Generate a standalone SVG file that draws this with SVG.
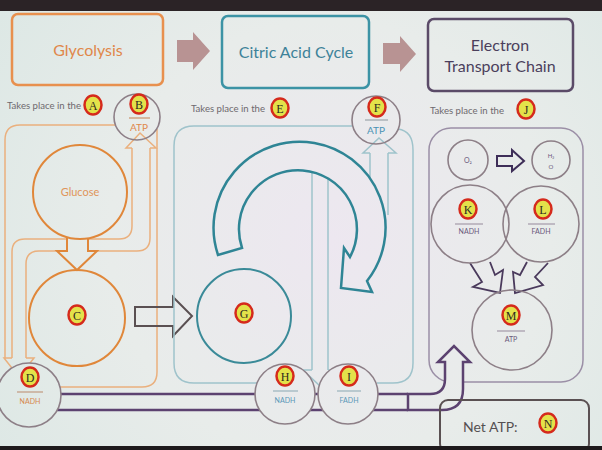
<svg xmlns="http://www.w3.org/2000/svg" width="602" height="450" viewBox="0 0 602 450">
<defs>
<radialGradient id="bg" gradientUnits="userSpaceOnUse" cx="330" cy="240" r="400">
<stop offset="0" stop-color="#ede7f0"/>
<stop offset="0.55" stop-color="#e8ecea"/>
<stop offset="1" stop-color="#dde8e5"/>
</radialGradient>
<style>
.t{font-family:Lato,"Open Sans","Liberation Sans",sans-serif}
.title{font-size:16px;text-anchor:middle}
.tp{font-size:9.6px;fill:#6e696e}
.sm{font-size:7px;text-anchor:middle}
.atp{font-size:10px;text-anchor:middle}
.lt{font-family:"Liberation Serif",serif;font-size:12px;text-anchor:middle;fill:#2e2a1e}
.badge{fill:#e3e24a;stroke:#d52a1c;stroke-width:2.5}
.org{fill:none;stroke:#eab07e;stroke-width:1.5}
.teal{fill:none;stroke:#9fc3cb;stroke-width:1.5}
.pur{fill:none;stroke:#9b8fa6;stroke-width:1.5}
.gc{fill:none;stroke:#8d7f87;stroke-width:1.6}
.mask{fill:url(#bg)}
.pipe{fill:none;stroke:#5c4270;stroke-width:2.5}
.blk{fill:#b89393}
.ul{stroke-width:1.2}
</style>
</defs>
<rect width="602" height="450" fill="url(#bg)"/>

<!-- title boxes -->
<g id="title-glycolysis">
<rect x="12" y="14" width="151" height="71" rx="6" fill="none" stroke="#e8904e" stroke-width="2.5"/>
<text class="t title" x="88" y="56" fill="#e0874a">Glycolysis</text>
</g>
<g id="title-citric">
<rect x="222" y="16" width="147" height="72" rx="6" fill="none" stroke="#3c93a5" stroke-width="2.5"/>
<text class="t title" x="296" y="58" fill="#3d8299">Citric Acid Cycle</text>
</g>
<g id="title-etc">
<rect x="428" y="19" width="145" height="72" rx="6" fill="none" stroke="#5b4b68" stroke-width="2.5"/>
<text class="t title" x="500" y="51" fill="#4b3f5c">Electron</text>
<text class="t title" x="500" y="72" fill="#4b3f5c">Transport Chain</text>
</g>

<g id="connectors">
<polygon class="blk" points="177,40 193,40 193,32 210,51 193,70 193,62 177,62"/>
<polygon class="blk" points="383,43 400,43 400,36 416,54 400,72 400,64 383,64"/>
<!-- glycolysis region -->
<path class="org" d="M116,125 H20 Q5,125 5,140 V358 M157,129 V372 Q157,387 142,387 H40"/>
<path class="org" d="M132,148 V226 Q132,239 119,239 H25 Q12,239 12,252 V358"/>
<path class="org" d="M150,148 V238 Q150,251 137,251 H39 Q26,251 26,264 V358"/>
<path class="org" d="M132,148 H126 L140,133 L156,148 H150"/>
<path class="org" d="M12,358 H4 L19,377 L34,358 H26"/>
<path class="mask" d="M67,238 V251 H57 L77,270 L97,251 H88 V238" stroke="#e0873a" stroke-width="2"/>
<path d="M135,307 H173 V297 L192,316 L173,336 V326 H135 Z" fill="none" stroke="#5a5052" stroke-width="2"/>
<!-- citric region -->
<path class="teal" d="M352,126 H194 Q174,126 174,146 V363 Q174,383 194,383 H257 M377,383 H393 Q413,383 413,363 V150 Q413,131 398,129"/>
<path class="teal" d="M312,172 V370 M328,172 V370 M312,370 H303 L320,386 L337,370 H328"/>
<path class="teal" d="M370,153 V200 M388,153 V215 M370,153 H363 L379,138 L396,153 H388"/>
<path class="mask" d="M218,255 A86 86 0 1 1 367,281 L372,292 L341,288 L344,248 L350,257 A59 59 0 1 0 242,248 Z" stroke="#2f8595" stroke-width="2.5" stroke-linejoin="miter"/>
<!-- ETC region -->
<rect class="pur" x="429" y="128" width="154" height="254" rx="22"/>
<path d="M497,156 H512 V150 L524,161 L512,171 V166 H497 Z" fill="none" stroke="#3e2e58" stroke-width="2"/>
<path d="M470,263 L482,282 L473,287 L500,293 L503,270 L495,275 L490,262" fill="none" stroke="#4a3a5c" stroke-width="1.8" stroke-linejoin="miter"/>
<path d="M548,263 L535,277 L543,285 L515,293 L513,272 L520,275 L527,262" fill="none" stroke="#4a3a5c" stroke-width="1.8" stroke-linejoin="miter"/>
<!-- pipelines -->
<path class="pipe" d="M40,394 H408 M40,410 H408"/>
<path class="mask" d="M408,394 H430 Q445,394 445,379 V362 H438 L454,346 L470,362 H463 V389 Q463,410 442,410 H408 Z" stroke="#5c4270" stroke-width="2.5" stroke-linejoin="miter"/>
</g>

<!-- row labels -->
<g id="label-A">
<text class="t tp" x="7" y="109">Takes place in the</text>
<ellipse class="badge" cx="93" cy="105" rx="8.5" ry="9.5"/><text class="lt" x="93" y="109.5">A</text>
</g>
<g id="label-E">
<text class="t tp" x="191" y="112">Takes place in the</text>
<ellipse class="badge" cx="280" cy="108" rx="8.5" ry="9.5"/><text class="lt" x="280" y="112.5">E</text>
</g>
<g id="label-J">
<text class="t tp" x="430" y="114">Takes place in the</text>
<ellipse class="badge" cx="526" cy="109" rx="8.5" ry="9.5"/><text class="lt" x="526" y="113.5">J</text>
</g>

<!-- glycolysis nodes -->
<g id="node-B">
<circle class="gc" cx="137" cy="117" r="23"/>
<ellipse class="badge" cx="139" cy="104" rx="8.5" ry="9.5"/><text class="lt" x="139" y="108.5">B</text>
<line class="ul" x1="129" y1="118" x2="150" y2="118" stroke="#c9926a"/>
<text class="t atp" x="139" y="131" fill="#e0894c">ATP</text>
</g>
<g id="node-glucose">
<circle cx="80" cy="192" r="47" fill="none" stroke="#e0873a" stroke-width="2"/>
<text class="t" x="80" y="196" font-size="11" text-anchor="middle" fill="#e0955a">Glucose</text>
</g>
<g id="node-C">
<circle cx="77" cy="318" r="48" fill="none" stroke="#e0873a" stroke-width="2"/>
<ellipse class="badge" cx="77" cy="315" rx="8.5" ry="9.5"/><text class="lt" x="77" y="319.5">C</text>
</g>
<g id="node-D">
<circle class="gc mask" cx="29" cy="395" r="32"/>
<ellipse class="badge" cx="30" cy="377" rx="8.5" ry="9.5"/><text class="lt" x="30" y="381.5">D</text>
<line class="ul" x1="17" y1="392" x2="43" y2="392" stroke="#c29a80"/>
<text class="t sm" x="30" y="404" fill="#d6884e">NADH</text>
</g>

<!-- citric nodes -->
<g id="node-F">
<circle class="gc" cx="376" cy="120" r="24"/>
<ellipse class="badge" cx="377" cy="107" rx="8.5" ry="9.5"/><text class="lt" x="377" y="111.5">F</text>
<line class="ul" x1="365" y1="120" x2="388" y2="120" stroke="#9aa3aa"/>
<text class="t atp" x="376" y="134" fill="#4b93b5">ATP</text>
</g>
<g id="node-G">
<circle cx="244" cy="316" r="47" fill="none" stroke="#3a8a98" stroke-width="2"/>
<ellipse class="badge" cx="244" cy="313" rx="8.5" ry="9.5"/><text class="lt" x="244" y="317.5">G</text>
</g>
<g id="node-H">
<circle class="gc mask" cx="285" cy="394" r="30"/>
<ellipse class="badge" cx="285" cy="376" rx="8.5" ry="9.5"/><text class="lt" x="285" y="380.5">H</text>
<line class="ul" x1="273" y1="391" x2="298" y2="391" stroke="#9ab3bd"/>
<text class="t sm" x="285" y="403" fill="#5a98b8">NADH</text>
</g>
<g id="node-I">
<circle class="gc mask" cx="348" cy="394" r="30"/>
<ellipse class="badge" cx="349" cy="376" rx="8.5" ry="9.5"/><text class="lt" x="349" y="380.5">I</text>
<line class="ul" x1="337" y1="391" x2="361" y2="391" stroke="#9ab3bd"/>
<text class="t sm" x="349" y="403" fill="#5a98b8">FADH</text>
</g>

<!-- ETC nodes -->
<g id="node-O2">
<circle class="gc" cx="468" cy="160" r="20"/>
<text class="t sm" x="468" y="163" fill="#6a5a7c">O₂</text>
</g>
<g id="node-H2O">
<circle class="gc" cx="551" cy="160" r="19"/>
<text class="t" x="551" y="158" font-size="6" text-anchor="middle" fill="#6a5a7c">H₂</text>
<text class="t" x="551" y="169" font-size="6" text-anchor="middle" fill="#6a5a7c">O</text>
</g>
<g id="node-K">
<circle class="gc" cx="470" cy="224" r="39"/>
<ellipse class="badge" cx="468" cy="209" rx="8.5" ry="9.5"/><text class="lt" x="468" y="213.5">K</text>
<line class="ul" x1="455" y1="224" x2="483" y2="224" stroke="#a49aa8"/>
<text class="t sm" x="469" y="234" fill="#6a5a7c">NADH</text>
</g>
<g id="node-L">
<circle class="gc" cx="541" cy="224" r="38"/>
<ellipse class="badge" cx="543" cy="209" rx="8.5" ry="9.5"/><text class="lt" x="543" y="213.5">L</text>
<line class="ul" x1="528" y1="224" x2="555" y2="224" stroke="#a49aa8"/>
<text class="t sm" x="541" y="234" fill="#6a5a7c">FADH</text>
</g>
<g id="node-M">
<circle class="gc" cx="512" cy="330" r="40"/>
<ellipse class="badge" cx="511" cy="315" rx="8.5" ry="9.5"/><text class="lt" x="511" y="319.5">M</text>
<line class="ul" x1="497" y1="331" x2="525" y2="331" stroke="#a49aa8"/>
<text class="t sm" x="511" y="342" fill="#6a5a7c">ATP</text>
</g>
<g id="node-net">
<rect x="440" y="400" width="149" height="52" rx="8" fill="none" stroke="#5a5052" stroke-width="2"/>
<text class="t" x="463" y="432" font-size="14" fill="#555052">Net ATP:</text>
<ellipse class="badge" cx="548" cy="423" rx="8.5" ry="9.5"/><text class="lt" x="548" y="427.5">N</text>
</g>

<rect x="0" y="0" width="602" height="11" fill="#2b2326"/>
<rect x="0" y="446" width="602" height="4" fill="#1e1a1c"/>
</svg>
